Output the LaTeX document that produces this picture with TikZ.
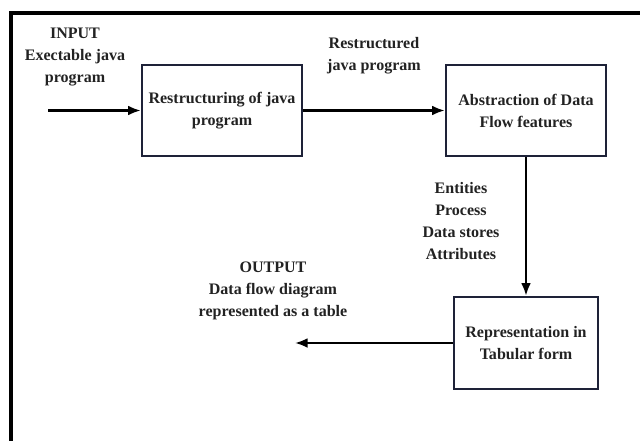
\documentclass[tikz,border=0pt]{standalone}
\usepackage{fontspec}
\setmainfont{Liberation Serif}
\usepackage{tikz}
\usetikzlibrary{arrows.meta}
\tikzset{>={Latex[length=9pt,width=7pt]}}
\definecolor{boxline}{HTML}{1E2238}
\definecolor{inktext}{HTML}{222222}

\begin{document}
\begin{tikzpicture}[x=0.025cm, y=-0.025cm,
    stage/.style={draw=boxline, line width=1.8pt, align=center, inner sep=0pt,
        text=inktext, font=\bfseries\fontsize{11.4}{15.6}\selectfont},
    tag/.style={align=center, inner sep=0pt, text=inktext,
        font=\bfseries\fontsize{11.4}{15.6}\selectfont},
    flow/.style={->, line width=1.6pt}]
            \useasboundingbox (0, 0) rectangle (640, 441);
            % frame
            \draw[line width=2.4pt] (640, 13) -- (11, 13) -- (11, 441);
            % boxes
            \node[stage, minimum width=4cm, minimum height=2.275cm] (restructure) at (222, 110.5) {Restructuring of java\\program};
            \node[stage, minimum width=4cm, minimum height=2.275cm] (abstraction) at (526, 110.5) {Abstraction of Data\\Flow features};
            \node[stage, minimum width=3.6cm, minimum height=2.3cm] (tabular) at (526, 343) {Representation in\\Tabular form};
            \coordinate (input) at (48, 110.5);
            \coordinate (output) at (295, 343);
            % arrows
            \draw[flow] (input) -- (restructure);
            \draw[flow] (restructure) -- (abstraction);
            \draw[flow] (abstraction) -- (tabular);
            \draw[flow] (tabular) -- (output);
            % labels
            \node[tag] (inputtext) at (75, 57) {INPUT\\Exectable java\\program};
            \node[tag] (restructured) at (374, 56) {Restructured\\java program};
            \node[tag] (features) at (461, 221) {Entities\\Process\\Data stores\\Attributes};
            \node[tag] (outputtext) at (273, 291) {OUTPUT\\Data flow diagram\\represented as a table};
        \end{tikzpicture}
\end{document}
